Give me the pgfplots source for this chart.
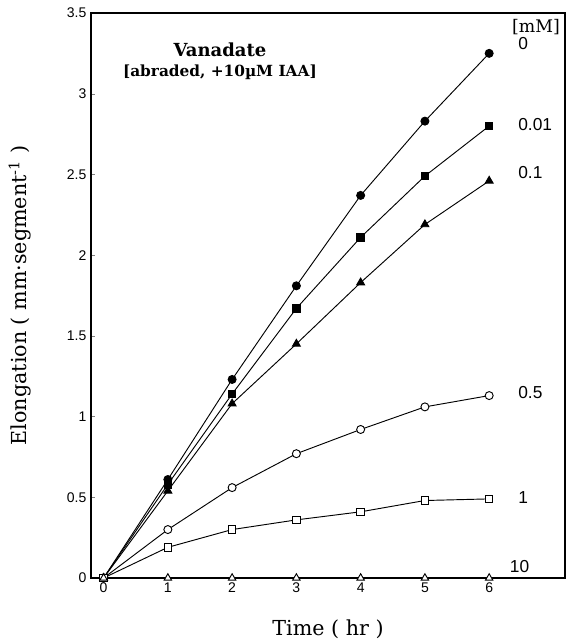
\documentclass[border=0pt]{standalone}
\usepackage{fontspec}
\setmainfont{DejaVu Serif}
\setsansfont{Liberation Sans}
\usepackage{pgfplots}
\pgfplotsset{compat=1.18}

\pgfplotstableread{
x   c0    c001  c01   c05   c1    c10
0   0.00  0.00  0.00  0.00  0.00  0.00
1   0.61  0.58  0.54  0.30  0.19  0.00
2   1.23  1.14  1.08  0.56  0.30  0.00
3   1.81  1.67  1.45  0.77  0.36  0.00
4   2.37  2.11  1.83  0.92  0.41  0.00
5   2.83  2.49  2.19  1.06  0.48  0.00
6   3.25  2.80  2.46  1.13  0.49  0.00
}\datatable

\begin{document}
\begin{tikzpicture}
\begin{axis}[name=ax, width=355.5pt, height=423.75pt, scale only axis,
  xmin=-0.196, xmax=7.18, ymin=0, ymax=3.5,
  xtick={0,1,2,3,4,5,6}, ytick={0,0.5,1,1.5,2,2.5,3,3.5},
  yticklabels={0,0.5,1,1.5,2,2.5,3,3.5},
  tick align=inside, major tick length=3pt,
  xtick pos=bottom, ytick pos=left,
  /pgf/number format/assume math mode=true,
  ticklabel style={font=\sffamily\fontsize{10.5}{10.5}\selectfont},
  xlabel={Time ( hr )},
  ylabel={Elongation ( mm·segment\textsuperscript{-1} )},
  xlabel style={at={(axis description cs:0.5,-0.101)}, anchor=base, font=\fontsize{15.5}{15.5}\selectfont},
  ylabel style={at={(axis description cs:-0.15,0.5)}, anchor=center, font=\fontsize{15.5}{15.5}\selectfont},
  axis line style={line width=0.9pt},
  every axis plot/.append style={black, line width=0.7pt},
  clip=false]
\addplot[mark=*, mark size=3pt] table[x=x, y=c0] {\datatable};
\addplot[mark=square*, mark size=2.8pt] table[x=x, y=c001] {\datatable};
\addplot[mark=triangle*, mark size=3.4pt] table[x=x, y=c01] {\datatable};
\addplot[mark=*, mark size=3pt, mark options={fill=white}] table[x=x, y=c05] {\datatable};
\addplot[mark=square*, mark size=2.8pt, mark options={fill=white}] table[x=x, y=c1] {\datatable};
\addplot[mark=triangle*, mark size=3.2pt, mark options={fill=white}] table[x=x, y=c10] {\datatable};

\node[font=\bfseries\fontsize{13.5}{13.5}\selectfont] at (axis cs:1.81,3.27) {Vanadate};
\node[font=\bfseries\fontsize{11.5}{11.5}\selectfont] at (axis cs:1.81,3.13) {[abraded, +10µM IAA]};
\node[font=\fontsize{13}{13}\selectfont] at (axis cs:6.73,3.41) {[mM]};
\begin{scope}[every node/.style={anchor=west, font=\sffamily\fontsize{13}{13}\selectfont}]
\node at (axis cs:6.38,3.31) {0};
\node at (axis cs:6.38,2.81) {0.01};
\node at (axis cs:6.38,2.51) {0.1};
\node at (axis cs:6.38,1.15) {0.5};
\node at (axis cs:6.38,0.50) {1};
\node at (axis cs:6.25,0.07) {10};
\end{scope}
\end{axis}
\pgfresetboundingbox
\path ([shift={(-68.25pt,-47.25pt)}]ax.south west) rectangle ([shift={(9pt,9.75pt)}]ax.north east);
\end{tikzpicture}
\end{document}
